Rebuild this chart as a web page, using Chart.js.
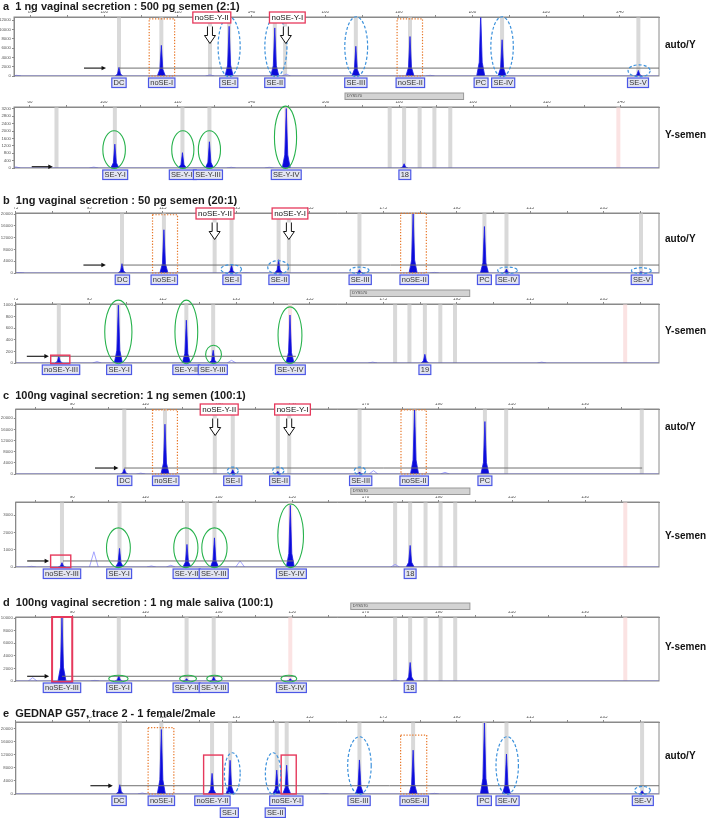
<!DOCTYPE html>
<html>
<head>
<meta charset="utf-8">
<title>Electropherograms</title>
<script src="https://cdn.jsdelivr.net/npm/chart.js@4.4.1/dist/chart.umd.min.js"></script>
<style>
  body { margin: 0; background: #fff; }
  #fig { position: relative; width: 708px; height: 818px; overflow: hidden; font-family: "Liberation Sans", Arial, sans-serif; }
  #fig canvas { position: absolute; left: 0; }
  .ttl { position: absolute; left: 3px; font-size: 11px; font-weight: bold; color: #1a1a1a; white-space: pre; line-height: 12px; }
  .kit { position: absolute; left: 665px; font-size: 10px; font-weight: bold; color: #111; line-height: 12px; white-space: nowrap; }
</style>
</head>
<body>
<div id="fig"></div>
<script>
// x ticks (bp) and which ones get a number
const ticks80 = [80, 90, 100, 110, 120, 130, 140, 150, 160, 170, 180, 190, 200, 210, 220, 230, 240];
const labelsA = [80, 100, 120, 140, 160, 180, 200, 220, 240];
const labelsC = [90, 110, 130, 150, 170, 190, 210, 230];
const ticks75 = [75, 85, 95, 105, 115, 125, 135, 145, 155, 165, 175, 185, 195, 205, 215, 225, 235, 245];
const labelsB = [75, 95, 115, 135, 155, 175, 195, 215, 235];

// y ticks (rfu)
const yTicksA1 = [0, 2000, 4000, 6000, 8000, 10000, 12000];
const yTicksA2 = [0, 400, 800, 1200, 1600, 2000, 2400, 2800, 3200];
const yTicksB1 = [0, 4000, 8000, 12000, 16000, 20000];
const yTicksB2 = [0, 200, 400, 600, 800, 1000];
const yTicksC2 = [0, 1000, 2000, 3000];
const yTicksD = [0, 2000, 4000, 6000, 8000, 10000];

const autoNames = ['DC', 'noSE-I', 'SE-I', 'SE-II', 'SE-III', 'noSE-II', 'PC', 'SE-IV', 'SE-V'];
const ysemNames = ['noSE-Y-III', 'SE-Y-I', 'SE-Y-II', 'SE-Y-III', 'SE-Y-IV', '18'];

// a  auto/Y
const aAutoBp = [104.0, 115.5, 133.9, 146.3, 168.3, 183.0, 202.2, 208.0, 245.0];
const aAutoRfu = [1850, 6600, 10700, 10350, 6400, 8500, 13500, 7800, 1200];
const aAutoBumpBp = [76.2, 128.7, 149.4, 188.5];
const aAutoBumpRfu = [150, 250, 400, 150];
const aAutoBins = [104.0, 115.5, 128.7, 133.9, 146.3, 149.1, 168.3, 183.0, 208.0, 245.0];
const aAutoLabelBp = [104.0, 115.6, 133.8, 146.3, 168.3, 183.1, 202.3, 208.3, 244.9];

// a  Y-semen
const aYBp = [103.0, 121.3, 128.6, 149.4, 181.3];
const aYRfu = [1290, 830, 1420, 3220, 230];
const aYBumpBp = [76.2, 97.3, 134.5, 144.8];
const aYBumpRfu = [60, 50, 40, 40];
const aYBins = [87.2, 103.0, 121.3, 128.6, 177.4, 181.3, 185.5, 189.5, 193.8];
const aYPink = [149.4, 239.3];
const aYNames = ['SE-Y-I', 'SE-Y-II', 'SE-Y-III', 'SE-Y-IV', '18'];
const aYLabelBp = [103.1, 121.4, 128.2, 149.4, 181.5];

// b  auto/Y
const bAutoBp = [103.9, 115.3, 133.7, 146.5, 168.5, 183.1, 202.5, 208.5, 245.1];
const bAutoRfu = [3160, 14700, 2700, 4500, 1100, 20200, 15800, 1350, 450];
const bAutoBumpBp = [76.1, 137.6, 188.9];
const bAutoBumpRfu = [150, 150, 200];
const bAutoBins = [103.9, 115.3, 129.1, 133.7, 146.5, 149.3, 168.5, 183.1, 202.5, 208.5, 245.1];
const bAutoLabelBp = [104.0, 115.4, 133.8, 146.6, 168.7, 183.4, 202.5, 208.8, 245.3];

// b  Y-semen
const bYBp = [86.7, 102.9, 121.4, 128.7, 149.6, 186.3];
const bYRfu = [116, 1000, 740, 220, 830, 150];
const bYBumpBp = [97.1, 133.7, 172.1, 218.1];
const bYBumpRfu = [25, 46, 15, 15];
const bYBins = [86.7, 102.9, 121.4, 128.7, 178.2, 182.1, 186.3, 190.5, 194.5];
const bYPink = [149.6, 240.8];
const bYNames = ['noSE-Y-III', 'SE-Y-I', 'SE-Y-II', 'SE-Y-III', 'SE-Y-IV', '19'];
const bYLabelBp = [87.3, 103.1, 121.4, 128.6, 149.7, 186.3];

// c  auto/Y
const cAutoBp = [104.2, 115.3, 133.8, 146.1, 168.4, 183.4, 202.6];
const cAutoRfu = [1900, 17850, 1550, 950, 700, 23000, 18800];
const cAutoBumpBp = [108.7, 172.2, 191.7];
const cAutoBumpRfu = [300, 1200, 600];
const cAutoBins = [104.2, 115.3, 128.9, 133.8, 146.1, 149.2, 168.4, 183.4, 202.6, 208.4, 245.4];
const cAutoNames = ['DC', 'noSE-I', 'SE-I', 'SE-II', 'SE-III', 'noSE-II', 'PC'];
const cAutoLabelBp = [104.3, 115.5, 133.8, 146.6, 168.7, 183.3, 202.6];

// c  Y-semen
const cYBp = [87.2, 102.9, 121.3, 128.8, 149.5, 182.2];
const cYRfu = [250, 1080, 1310, 1690, 3580, 1250];
const cYBumpBp = [78.9, 95.9, 111.6, 116.9, 135.8, 178.1];
const cYBumpRfu = [40, 885, 60, 100, 350, 150];
const cYBins = [87.2, 102.9, 121.3, 128.8, 178.1, 182.2, 186.4, 190.5, 194.5];
const cYPink = [149.5, 240.9];
const cYLabelBp = [87.2, 102.8, 121.2, 128.6, 149.8, 182.2];

// d  Y-semen
const dYBp = [87.2, 102.7, 121.2, 128.6, 149.5, 182.2];
const dYRfu = [10000, 800, 370, 640, 370, 2940];
const dYBumpBp = [79.2, 96.2, 178.1];
const dYBumpRfu = [530, 100, 150];
const dYBins = [87.2, 102.7, 121.2, 128.6, 178.1, 182.2, 186.4, 190.5, 194.5];
const dYPink = [149.5, 240.9];
const dYLabelBp = [87.2, 102.8, 121.2, 128.6, 149.8, 182.2];

// e  auto/Y
const eAutoBp = [103.3, 114.6, 128.4, 133.3, 146.0, 148.7, 168.5, 183.1, 202.5, 208.5, 245.4];
const eAutoRfu = [2830, 19700, 6300, 10300, 7300, 8800, 10400, 13400, 21700, 12200, 1000];
const eAutoBumpBp = [109.4, 158.9, 188.9];
const eAutoBumpRfu = [300, 150, 200];
const eAutoNames = ['DC', 'noSE-I', 'noSE-Y-II', 'noSE-Y-I', 'SE-III', 'noSE-II', 'PC', 'SE-IV', 'SE-V'];
const eAutoLabelBp = [103.1, 114.6, 128.5, 148.6, 168.4, 183.4, 202.5, 208.8, 245.6];
const eAutoNames2 = ['SE-I', 'SE-II'];
const eAutoLabelBp2 = [133.1, 145.6];

const COL = {
  bin: '#d9d9d9', pink: '#fbe3e3', peak: '#0b0bd9', peakLine: '#1c1ce6', bump: '#8d8dff',
  blue: '#3d92dc', green: '#27b24c', orange: '#e8782a', red: '#e6395c',
  lblLine: '#4b57e6', lblFill: '#e3e5f1', axis: '#8a8a8a'
};
const PAD_TOP = 16, PAD_BOTTOM = 24, X_AXIS_H = 6;
const PEAK_SHAPE = [[-1.1, 0], [-0.4, 0.22], [0, 1], [0.4, 0.22], [1.1, 0]];
const BUMP_HALF = 1.2;

function trace(bp, rfu, x0, x1) {
  const pts = [{ x: x0, y: 0 }];
  bp.forEach((p, i) => PEAK_SHAPE.forEach(([dx, f]) => pts.push({ x: p + dx, y: rfu[i] * f })));
  pts.push({ x: x1, y: 0 });
  return pts;
}

function bumpTrace(bp, rfu) {
  const pts = [];
  bp.forEach((p, i) => {
    pts.push({ x: p - BUMP_HALF, y: 0 }, { x: p, y: rfu[i] }, { x: p + BUMP_HALF, y: 0 }, { x: p + BUMP_HALF + 0.01, y: null });
  });
  return pts;
}

const blueE = (c, hw, top, bot) => ({ c, hw, top, bot, color: COL.blue, dash: [3, 2], lw: 1.2 });
const greenE = (c, hw, top, bot) => ({ c, hw, top, bot, color: COL.green, dash: [], lw: 1.1 });
const orangeR = (x0, x1, top, bot) => ({ x0, x1, top, bot, color: COL.orange, dash: [1.3, 1.6], lw: 1.2 });
const redR = (x0, x1, top, bot, lw) => ({ x0, x1, top, bot, color: COL.red, dash: [], lw: lw || 1.4 });

const panels = [
  { id: 'a1', box: [14, 17, 659, 76], x: [75.5, 250.6], yMax: 12700, xTicks: ticks80, xLabels: labelsA, yTicks: yTicksA1,
    peaks: [aAutoBp, aAutoRfu], bumps: [aAutoBumpBp, aAutoBumpRfu], bins: aAutoBins,
    rows: [[autoNames, aAutoLabelBp, 0]],
    thr: { v: 1700, from: 104.0, to: 250.6, arrow: [94.5, 100.5] },
    ellipses: [blueE(133.9, 3.0, 12750, -150), blueE(146.6, 3.0, 12750, -150), blueE(168.4, 3.1, 12750, -150),
               blueE(208.0, 3.05, 12750, -150), blueE(245.2, 3.0, 2400, -150)],
    rects: [orangeR(112.2, 119.1, 12300, 0), orangeR(179.5, 186.4, 12300, 0)],
    tops: [['noSE-Y-II', 129.2, 128.7], ['noSE-Y-I', 149.7, 149.3]] },
  { id: 'a2', box: [14, 107, 659, 168], x: [75.7, 250.3], yMax: 3300, xTicks: ticks80, xLabels: labelsA, yTicks: yTicksA2,
    peaks: [aYBp, aYRfu], bumps: [aYBumpBp, aYBumpRfu], bins: aYBins, pink: aYPink,
    rows: [[aYNames, aYLabelBp, 0]], dys: [165.3, 197.4],
    thr: { v: 70, from: 0, to: 0, arrow: [80.5, 86.2] },
    ellipses: [greenE(102.8, 3.05, 2013, -30), greenE(121.4, 3.0, 2013, -30), greenE(128.6, 3.0, 2013, -30), greenE(149.2, 3.0, 3350, -30)],
    rects: [], tops: [] },
  { id: 'b1', box: [15.8, 213, 659, 273], x: [75, 250], yMax: 20400, xTicks: ticks75, xLabels: labelsB, yTicks: yTicksB1,
    peaks: [bAutoBp, bAutoRfu], bumps: [bAutoBumpBp, bAutoBumpRfu], bins: bAutoBins,
    rows: [[autoNames, bAutoLabelBp, 0]],
    thr: { v: 2700, from: 103.9, to: 250, arrow: [93.4, 99.5] },
    ellipses: [blueE(133.6, 2.8, 2825, -226), blueE(146.4, 2.85, 4180, -340), blueE(168.5, 2.6, 2030, -226),
               blueE(208.8, 2.7, 2030, -226), blueE(245.2, 2.7, 1800, -226)],
    rects: [orangeR(112.2, 119.0, 19800, 0), orangeR(179.7, 186.7, 20300, 0)],
    tops: [['noSE-Y-II', 129.2, 129.1], ['noSE-Y-I', 149.6, 149.3]] },
  { id: 'b2', box: [15.8, 304, 659, 363], x: [75, 250], yMax: 1020, xTicks: ticks75, xLabels: labelsB, yTicks: yTicksB2,
    peaks: [bYBp, bYRfu], bumps: [bYBumpBp, bYBumpRfu], bins: bYBins, pink: bYPink,
    rows: [[bYNames, bYLabelBp, 0]], dys: [166, 198.5],
    thr: { v: 116, from: 84.5, to: 151.2, arrow: [78.0, 84.0] },
    ellipses: [greenE(102.9, 3.7, 1087, -12), greenE(121.4, 3.1, 1087, -12), greenE(128.8, 2.15, 306, -12), greenE(149.6, 3.25, 971, -12)],
    rects: [redR(84.5, 89.7, 135, -12)], tops: [] },
  { id: 'c1', box: [15.8, 409, 659, 474], x: [74.6, 250.1], yMax: 23300, xTicks: ticks80, xLabels: labelsC, yTicks: yTicksB1,
    peaks: [cAutoBp, cAutoRfu], bumps: [cAutoBumpBp, cAutoBumpRfu], bins: cAutoBins,
    rows: [[cAutoNames, cAutoLabelBp, 0]],
    thr: { v: 2140, from: 104.2, to: 245.5, arrow: [96.2, 102.6] },
    ellipses: [blueE(133.8, 1.5, 2500, -240), blueE(146.2, 1.55, 2500, -240), blueE(168.5, 1.55, 2500, -240)],
    rects: [orangeR(111.9, 118.7, 22970, 0), orangeR(179.7, 186.6, 22970, 0)],
    tops: [['noSE-Y-II', 130.1, 129.0], ['noSE-Y-I', 150.1, 149.2]] },
  { id: 'c2', box: [15.8, 502, 659, 567], x: [74.6, 250.1], yMax: 3770, xTicks: ticks80, xLabels: labelsC, yTicks: yTicksC2,
    peaks: [cYBp, cYRfu], bumps: [cYBumpBp, cYBumpRfu], bins: cYBins, pink: cYPink,
    rows: [[ysemNames, cYLabelBp, 0]], dys: [166, 198.5],
    thr: { v: 350, from: 87.5, to: 150.4, arrow: [77.7, 83.7] },
    ellipses: [greenE(102.6, 3.25, 2270, -38), greenE(121.0, 3.3, 2270, -38), greenE(128.8, 3.45, 2270, -38), greenE(149.6, 3.5, 3650, -38)],
    rects: [redR(84.1, 89.6, 692, -38)], tops: [] },
  { id: 'd', box: [15.8, 617, 659, 681], x: [74.6, 250.1], yMax: 10160, xTicks: ticks80, xLabels: labelsC, yTicks: yTicksD,
    peaks: [dYBp, dYRfu], bumps: [dYBumpBp, dYBumpRfu], bins: dYBins, pink: dYPink,
    rows: [[ysemNames, dYLabelBp, 0]], dys: [166, 198.5],
    thr: { v: 750, from: 87.2, to: 151, arrow: [77.7, 83.7] },
    ellipses: [greenE(102.6, 2.65, 910, -160), greenE(121.6, 2.3, 910, -160), greenE(128.8, 2.1, 910, -160), greenE(149.1, 2.15, 910, -160)],
    rects: [redR(84.5, 90.0, 10160, -160, 2)], tops: [] },
  { id: 'e', box: [15.8, 722, 659, 794], x: [75, 250], yMax: 22000, xTicks: ticks75, xLabels: labelsB.slice(1), yTicks: yTicksB1,
    peaks: [eAutoBp, eAutoRfu], bumps: [eAutoBumpBp, eAutoBumpRfu], bins: eAutoBp,
    rows: [[eAutoNames, eAutoLabelBp, 0], [eAutoNames2, eAutoLabelBp2, 12]],
    thr: { v: 2530, from: 103.3, to: 250, arrow: [95.3, 101.4] },
    ellipses: [blueE(133.9, 2.15, 12600, -100), blueE(145.0, 2.1, 12600, -100), blueE(168.5, 3.2, 17500, -100),
               blueE(208.7, 3.05, 17500, -100), blueE(245.5, 2.15, 2320, -100)],
    rects: [orangeR(111.0, 118.0, 20300, 0), orangeR(179.7, 186.8, 18000, 0),
            redR(126.1, 131.3, 11900, 0), redR(147.2, 151.3, 11900, 0)],
    tops: [] }
];

const titles = [
  ['a  1 ng vaginal secretion : 500 pg semen (2:1)', 0],
  ['b  1ng vaginal secretion : 50 pg semen (20:1)', 194],
  ['c  100ng vaginal secretion: 1 ng semen (100:1)', 389],
  ['d  100ng vaginal secretion : 1 ng male saliva (100:1)', 596],
  ['e  GEDNAP G57, trace 2 - 1 female/2male', 707]
];
const kits = [['auto/Y', 39], ['Y-semen', 129], ['auto/Y', 233], ['Y-semen', 325], ['auto/Y', 421], ['Y-semen', 530], ['Y-semen', 641], ['auto/Y', 750]];

function labelBox(ctx, text, cx, top) {
  ctx.font = '7.5px "Liberation Sans", Arial, sans-serif';
  const w = ctx.measureText(text).width + 3.5, h = 9.5;
  const x = cx - w / 2;
  ctx.fillStyle = COL.lblFill;
  ctx.fillRect(x, top, w, h);
  ctx.strokeStyle = COL.lblLine;
  ctx.lineWidth = 1.2;
  ctx.strokeRect(x, top, w, h);
  ctx.fillStyle = '#333';
  ctx.textAlign = 'center';
  ctx.textBaseline = 'middle';
  ctx.fillText(text, cx, top + h / 2 + 0.5);
}

function makeDecor(p) {
  return {
    id: 'decor_' + p.id,
    beforeDatasetsDraw(chart) {
      const { ctx, chartArea: a } = chart;
      const X = v => chart.scales.x.getPixelForValue(v);
      ctx.save();
      p.bins.forEach(v => { ctx.fillStyle = COL.bin; ctx.fillRect(X(v) - 2, a.top, 4, a.bottom - a.top); });
      (p.pink || []).forEach(v => { ctx.fillStyle = COL.pink; ctx.fillRect(X(v) - 2, a.top, 4, a.bottom - a.top); });
      ctx.restore();
    },
    afterDraw(chart) {
      const { ctx, chartArea: a } = chart;
      const X = v => chart.scales.x.getPixelForValue(v);
      const Y = v => chart.scales.y.getPixelForValue(v);
      ctx.save();
      ctx.strokeStyle = COL.axis;
      ctx.lineWidth = 1;
      ctx.strokeRect(a.left, a.top, a.right - a.left, a.bottom - a.top);

      if (p.dys) {
        const x0 = X(p.dys[0]), x1 = X(p.dys[1]);
        ctx.fillStyle = '#d3d3d3';
        ctx.fillRect(x0, a.top - 14, x1 - x0, 6.5);
        ctx.strokeStyle = '#999';
        ctx.strokeRect(x0, a.top - 14, x1 - x0, 6.5);
        ctx.fillStyle = '#444';
        ctx.font = '4px "Liberation Sans", Arial, sans-serif';
        ctx.textAlign = 'left';
        ctx.textBaseline = 'middle';
        ctx.fillText('DYS570', x0 + 2, a.top - 10.7);
      }

      // threshold line + pointer arrow
      const ty = Y(p.thr.v);
      if (p.thr.to > p.thr.from) {
        ctx.strokeStyle = '#707070';
        ctx.lineWidth = 1;
        ctx.beginPath();
        ctx.moveTo(X(p.thr.from), ty);
        ctx.lineTo(X(p.thr.to), ty);
        ctx.stroke();
      }
      const ax0 = X(p.thr.arrow[0]), ax1 = X(p.thr.arrow[1]);
      ctx.strokeStyle = '#111';
      ctx.fillStyle = '#111';
      ctx.lineWidth = 1.1;
      ctx.beginPath();
      ctx.moveTo(ax0, ty);
      ctx.lineTo(ax1 - 3, ty);
      ctx.stroke();
      ctx.beginPath();
      ctx.moveTo(ax1, ty);
      ctx.lineTo(ax1 - 4.5, ty - 2.2);
      ctx.lineTo(ax1 - 4.5, ty + 2.2);
      ctx.closePath();
      ctx.fill();

      p.rects.forEach(r => {
        ctx.strokeStyle = r.color;
        ctx.lineWidth = r.lw;
        ctx.setLineDash(r.dash);
        ctx.strokeRect(X(r.x0), Y(r.top), X(r.x1) - X(r.x0), Y(r.bot) - Y(r.top));
      });
      p.ellipses.forEach(e => {
        const cx = X(e.c), rx = X(e.c + e.hw) - cx;
        const yt = Y(e.top), yb = Y(e.bot);
        ctx.strokeStyle = e.color;
        ctx.lineWidth = e.lw;
        ctx.setLineDash(e.dash);
        ctx.beginPath();
        ctx.ellipse(cx, (yt + yb) / 2, rx, (yb - yt) / 2, 0, 0, Math.PI * 2);
        ctx.stroke();
      });
      ctx.setLineDash([]);

      p.rows.forEach(([names, pos, dy]) => {
        names.forEach((n, i) => labelBox(ctx, n, X(pos[i]), a.bottom + 2 + dy));
      });

      p.tops.forEach(([text, bp, arrowBp]) => {
        ctx.font = '8px "Liberation Sans", Arial, sans-serif';
        const w = ctx.measureText(text).width + 4, h = 11;
        const cx = X(bp), top = a.top - 5;
        ctx.fillStyle = '#fff';
        ctx.fillRect(cx - w / 2, top, w, h);
        ctx.strokeStyle = COL.red;
        ctx.lineWidth = 1.3;
        ctx.strokeRect(cx - w / 2, top, w, h);
        ctx.fillStyle = '#111';
        ctx.textAlign = 'center';
        ctx.textBaseline = 'middle';
        ctx.fillText(text, cx, top + h / 2 + 0.5);
        // hollow down arrow
        const x = X(arrowBp), y0 = a.top + 9.5, y1 = a.top + 26.5, yh = y1 - 8;
        ctx.beginPath();
        ctx.moveTo(x - 2.5, y0);
        ctx.lineTo(x - 2.5, yh);
        ctx.lineTo(x - 5.5, yh);
        ctx.lineTo(x, y1);
        ctx.lineTo(x + 5.5, yh);
        ctx.lineTo(x + 2.5, yh);
        ctx.lineTo(x + 2.5, y0);
        ctx.fillStyle = '#fff';
        ctx.fill();
        ctx.strokeStyle = '#111';
        ctx.lineWidth = 1;
        ctx.stroke();
      });
      ctx.restore();
    }
  };
}

const fig = document.getElementById('fig');

panels.forEach(p => {
  const [L, T, R, B] = p.box;
  const cv = document.createElement('canvas');
  cv.width = 708;
  cv.height = PAD_TOP + (B - T) + PAD_BOTTOM;
  cv.style.top = (T - PAD_TOP) + 'px';
  fig.appendChild(cv);

  new Chart(cv, {
    type: 'line',
    data: {
      datasets: [
        { data: trace(p.peaks[0], p.peaks[1], p.x[0], p.x[1]), borderColor: COL.peakLine, backgroundColor: COL.peak,
          borderWidth: 0.8, fill: 'origin', pointRadius: 0, tension: 0 },
        { data: bumpTrace(p.bumps[0], p.bumps[1]), borderColor: COL.bump, borderWidth: 0.8,
          fill: false, pointRadius: 0, tension: 0, spanGaps: false }
      ]
    },
    options: {
      responsive: false,
      animation: false,
      devicePixelRatio: 1,
      layout: { autoPadding: false, padding: { top: PAD_TOP - X_AXIS_H, bottom: PAD_BOTTOM, left: 0, right: 708 - R } },
      plugins: { legend: { display: false }, tooltip: { enabled: false } },
      scales: {
        x: {
          type: 'linear', position: 'top', min: p.x[0], max: p.x[1],
          afterBuildTicks: s => { s.ticks = p.xTicks.map(v => ({ value: v })); },
          afterFit: s => { s.height = X_AXIS_H; },
          ticks: { font: { size: 4.5 }, color: '#555', padding: 0.5, maxRotation: 0, autoSkip: false,
                   callback: v => (p.xLabels.includes(v) ? String(v) : '') },
          grid: { drawOnChartArea: false, tickLength: 2, color: COL.axis },
          border: { color: COL.axis }
        },
        y: {
          min: 0, max: p.yMax,
          afterBuildTicks: s => { s.ticks = p.yTicks.map(v => ({ value: v })); },
          afterFit: s => { s.width = L; },
          ticks: { font: { size: 4.3 }, color: '#555', padding: 1, autoSkip: false, callback: v => String(v) },
          grid: { drawOnChartArea: false, tickLength: 2, color: COL.axis },
          border: { color: COL.axis }
        }
      }
    },
    plugins: [makeDecor(p)]
  });
});

titles.forEach(([t, top]) => {
  const d = document.createElement('div');
  d.className = 'ttl';
  d.style.top = top + 'px';
  d.textContent = t;
  fig.appendChild(d);
});
kits.forEach(([t, top]) => {
  const d = document.createElement('div');
  d.className = 'kit';
  d.style.top = top + 'px';
  d.textContent = t;
  fig.appendChild(d);
});
</script>
</body>
</html>
